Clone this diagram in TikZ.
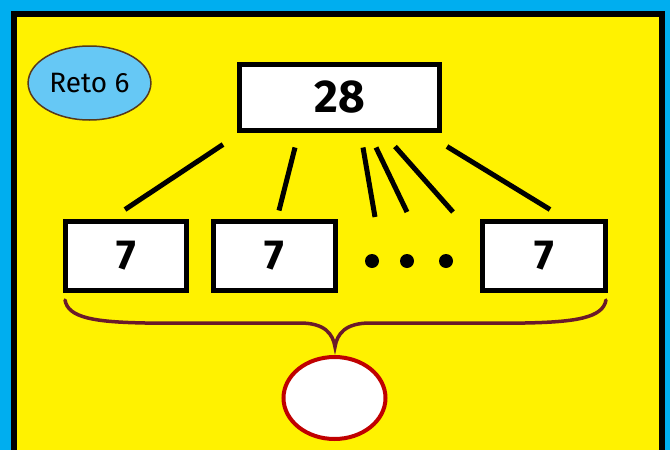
\documentclass[tikz,border=0pt]{standalone}
\usepackage{fontspec}
\setmainfont{Fira Sans}
\usetikzlibrary{shapes.geometric}

\definecolor{skyback}{HTML}{00AEEF}
\definecolor{tagblue}{HTML}{66C8F5}
\definecolor{bracered}{HTML}{6A1A2A}
\definecolor{ansred}{HTML}{C00000}

\begin{document}
\begin{tikzpicture}[
  x=1pt, y=-1pt,
  num/.style={draw, line width=5pt, fill=white, inner sep=0pt, font=\fontsize{42}{42}\selectfont\bfseries},
  link/.style={line width=5pt},
  dot/.style={circle, fill=black, minimum size=14pt, inner sep=0pt}
]
  \useasboundingbox (0,0) rectangle (670,450);
  \fill[skyback] (0,0) rectangle (670,450);
  \fill[black] (11,11) rectangle (665,460);
  \fill[yellow] (17,17) rectangle (659,460);

  \node[ellipse, draw=black!55!brown, line width=1.5pt, fill=tagblue, minimum width=122pt, minimum height=74pt,
        font=\fontsize{28}{28}\selectfont] (tag) at (89.5,83) {Reto 6};

  \node[num, minimum width=200pt, minimum height=66pt, font=\fontsize{46}{46}\selectfont\bfseries] (top) at (339.5,97.5) {28};
  \node[num, minimum width=121pt, minimum height=69pt] (b1) at (126,256) {7};
  \node[num, minimum width=122pt, minimum height=69pt] (b2) at (274.5,256) {7};
  \node[num, minimum width=123pt, minimum height=69pt] (b4) at (544,256) {7};
  \node[dot] (d1) at (372,261) {};
  \node[dot] (d2) at (407,261) {};
  \node[dot] (d3) at (446,261) {};

  \draw[link] ([xshift=-116.5,yshift=-11.5]top.south) -- ([xshift=-1,yshift=9.5]b1.north);
  \draw[link] ([xshift=-44.5,yshift=-14.5]top.south) -- ([xshift=4.5,yshift=8.5]b2.north);
  \draw[link] ([xshift=23.5,yshift=-14.5]top.south) -- ([xshift=3,yshift=44]d1.center);
  \draw[link] ([xshift=36.5,yshift=-14.5]top.south) -- ([yshift=49]d2.center);
  \draw[link] ([xshift=55.5,yshift=-13.5]top.south) -- ([xshift=7,yshift=49]d3.center);
  \draw[link] ([xshift=107.5,yshift=-13.5]top.south) -- ([xshift=6,yshift=9.5]b4.north);

  % brace under the row
  \draw[bracered, line width=3.5pt, line cap=round]
    (65,300) .. controls (68,318) and (95,322) .. (145,323) -- (300,323)
    .. controls (325,323) and (333,334) .. (335,347)
    .. controls (337,334) and (345,323) .. (370,323) -- (525,323)
    .. controls (575,322) and (603,318) .. (606,300);

  \node[ellipse, draw=ansred, line width=4pt, fill=white, minimum width=102pt, minimum height=82pt] (ans) at (334.5,398) {};
\end{tikzpicture}
\end{document}
